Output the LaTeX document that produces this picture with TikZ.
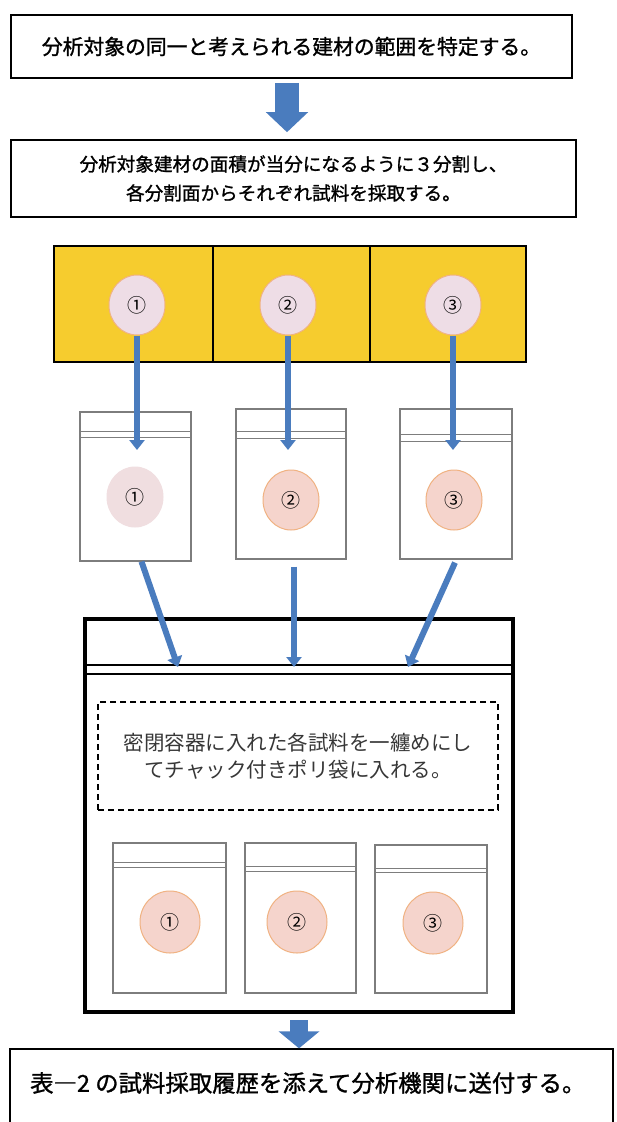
\documentclass[tikz,border=0pt]{standalone}
\usepackage{fontspec}
\setmainfont{Noto Sans CJK JP}
\newfontfamily\jpbold[FakeBold=1.2]{Noto Sans CJK JP}
\usetikzlibrary{arrows.meta,shapes.geometric}
\definecolor{gold}{RGB}{246,204,46}
\definecolor{bblue}{RGB}{74,124,190}
\definecolor{lpink}{RGB}{238,221,230}
\definecolor{bpink}{RGB}{240,222,224}
\definecolor{spink}{RGB}{245,212,204}
\definecolor{corange}{RGB}{240,178,130}
\definecolor{baggray}{RGB}{125,125,125}
\definecolor{dtext}{RGB}{55,55,55}
\begin{document}
\begin{tikzpicture}[x=1pt,y=-1pt,
  textbox/.style={draw=black, line width=1.6pt, inner sep=0pt, align=center},
  bigarrow/.style={draw=bblue, line width=24pt, -{Triangle[width=41pt,length=20pt]}},
  bigarrowb/.style={draw=bblue, line width=18pt, -{Triangle[width=40pt,length=17pt]}},
  thinarrow/.style={draw=bblue, line width=6pt, -{Triangle[width=15pt,length=10pt]}},
  bagbox/.style={draw=baggray, line width=1.2pt, inner sep=0pt},
  zipper/.style={draw=baggray, line width=1.1pt},
  cell/.style={draw=black, line width=1.6pt, fill=gold, minimum height=116pt, inner sep=0pt},
  sample/.style={ellipse, inner sep=0pt, minimum width=56pt, minimum height=60pt, font=\fontsize{19}{19}\selectfont},
  ysample/.style={sample, fill=lpink, draw=corange, line width=1pt},
  psample/.style={sample, fill=spink, draw=corange, line width=1pt},
  qsample/.style={sample, fill=bpink, draw=bpink, line width=1pt},
]
\useasboundingbox (0,0) rectangle (617,1122);
\fill[white] (0,0) rectangle (617,1122);

% top boxes
\node[textbox, minimum width=561pt, minimum height=63pt,
      font=\jpbold\fontsize{20.8}{24}\selectfont] (t1) at (291.5,46.5)
      {分析対象の同一と考えられる建材の範囲を特定する。};
\node[textbox, minimum width=565pt, minimum height=77pt,
      font=\jpbold\fontsize{18.6}{29}\selectfont] (t2) at (293.5,178.5)
      {分析対象建材の面積が当分になるように３分割し、\\各分割面からそれぞれ試料を採取する。};
\draw[bigarrow] ([xshift=-4.5pt,yshift=-4pt]t1.south) -- ([xshift=-6.5pt,yshift=7pt]t2.north);

% yellow area
\node[cell, minimum width=159pt] (y1) at (133.5,304) {};
\node[cell, minimum width=157pt] (y2) at (291.5,304) {};
\node[cell, minimum width=156pt] (y3) at (448,304) {};
\node[ysample] (c1) at (137,305) {①};
\node[ysample] (c2) at (288,305) {②};
\node[ysample] (c3) at (453,305) {③};

% first row of bags
\node[bagbox, minimum width=111pt, minimum height=149pt] (b1) at (135.5,486.5) {};
\node[bagbox, minimum width=110pt, minimum height=150pt] (b2) at (291,484) {};
\node[bagbox, minimum width=112pt, minimum height=150pt] (b3) at (456,484) {};
\draw[zipper] ([yshift=-20pt]b1.north west) -- ([yshift=-20pt]b1.north east);
\draw[zipper] ([yshift=-26pt]b1.north west) -- ([yshift=-26pt]b1.north east);
\draw[zipper] ([yshift=-23pt]b2.north west) -- ([yshift=-23pt]b2.north east);
\draw[zipper] ([yshift=-30pt]b2.north west) -- ([yshift=-30pt]b2.north east);
\draw[zipper] ([yshift=-26pt]b3.north west) -- ([yshift=-26pt]b3.north east);
\draw[zipper] ([yshift=-33pt]b3.north west) -- ([yshift=-33pt]b3.north east);
\node[qsample] (d1) at (135,497) {①};
\node[psample] (d2) at (291,500) {②};
\node[psample] (d3) at (454,500) {③};

\coordinate (a1) at (137,450);
\coordinate (a2) at (288,450);
\coordinate (a3) at (453,450);
\draw[thinarrow] (c1.south) -- (a1);
\draw[thinarrow] (c2.south) -- (a2);
\draw[thinarrow] (c3.south) -- (a3);

% big container
\node[draw=black, line width=4pt, minimum width=428pt, minimum height=393pt, inner sep=0pt] (big) at (299,815.5) {};
\draw[line width=2.5pt] ([yshift=-48pt]big.north west) -- ([yshift=-48pt]big.north east);
\draw[line width=2.2pt] ([yshift=-57pt]big.north west) -- ([yshift=-57pt]big.north east);

\coordinate (e1) at (178,667);
\coordinate (e2) at (294,667);
\coordinate (e3) at (408,667);
\draw[thinarrow] ([xshift=6pt]b1.south) -- (e1);
\draw[thinarrow] ([xshift=3pt,yshift=-7pt]b2.south) -- (e2);
\draw[thinarrow] ([xshift=-1pt,yshift=-3pt]b3.south) -- (e3);

\node[draw=black, dashed, dash pattern=on 6pt off 4pt, line width=1.3pt,
      minimum width=400pt, minimum height=108pt, inner sep=0pt, align=center,
      text=dtext, font=\fontsize{20.5}{27}\selectfont] (dash) at (298,756)
      {密閉容器に入れた各試料を一纏めにし\\てチャック付きポリ袋に入れる。};

% second row of bags
\node[bagbox, minimum width=113pt, minimum height=150pt] (p1) at (169.5,918) {};
\node[bagbox, minimum width=111pt, minimum height=150pt] (p2) at (300.5,918) {};
\node[bagbox, minimum width=112pt, minimum height=148pt] (p3) at (431,919) {};
\draw[zipper] ([yshift=-20pt]p1.north west) -- ([yshift=-20pt]p1.north east);
\draw[zipper] ([yshift=-25pt]p1.north west) -- ([yshift=-25pt]p1.north east);
\draw[zipper] ([yshift=-24pt]p2.north west) -- ([yshift=-24pt]p2.north east);
\draw[zipper] ([yshift=-29pt]p2.north west) -- ([yshift=-29pt]p2.north east);
\draw[zipper] ([yshift=-24pt]p3.north west) -- ([yshift=-24pt]p3.north east);
\draw[zipper] ([yshift=-28pt]p3.north west) -- ([yshift=-28pt]p3.north east);
\node[psample, minimum width=60pt, minimum height=62pt] (q1) at (170,922) {①};
\node[psample, minimum width=60pt, minimum height=62pt] (q2) at (297,922) {②};
\node[psample, minimum width=60pt, minimum height=62pt] (q3) at (433,923) {③};

% final step
\node[draw=black, line width=1.3pt, minimum width=603pt, minimum height=81pt, inner sep=0pt] (t3) at (311.5,1089.5) {};
\node[anchor=west, inner sep=0pt, font=\jpbold\fontsize{23.4}{26}\selectfont] (t3text) at (30,1083)
      {表―2 の試料採取履歴を添えて分析機関に送付する。};
\draw[bigarrowb] ([yshift=-6pt]big.south) -- (t3.north -| big.south);
\end{tikzpicture}
\end{document}
